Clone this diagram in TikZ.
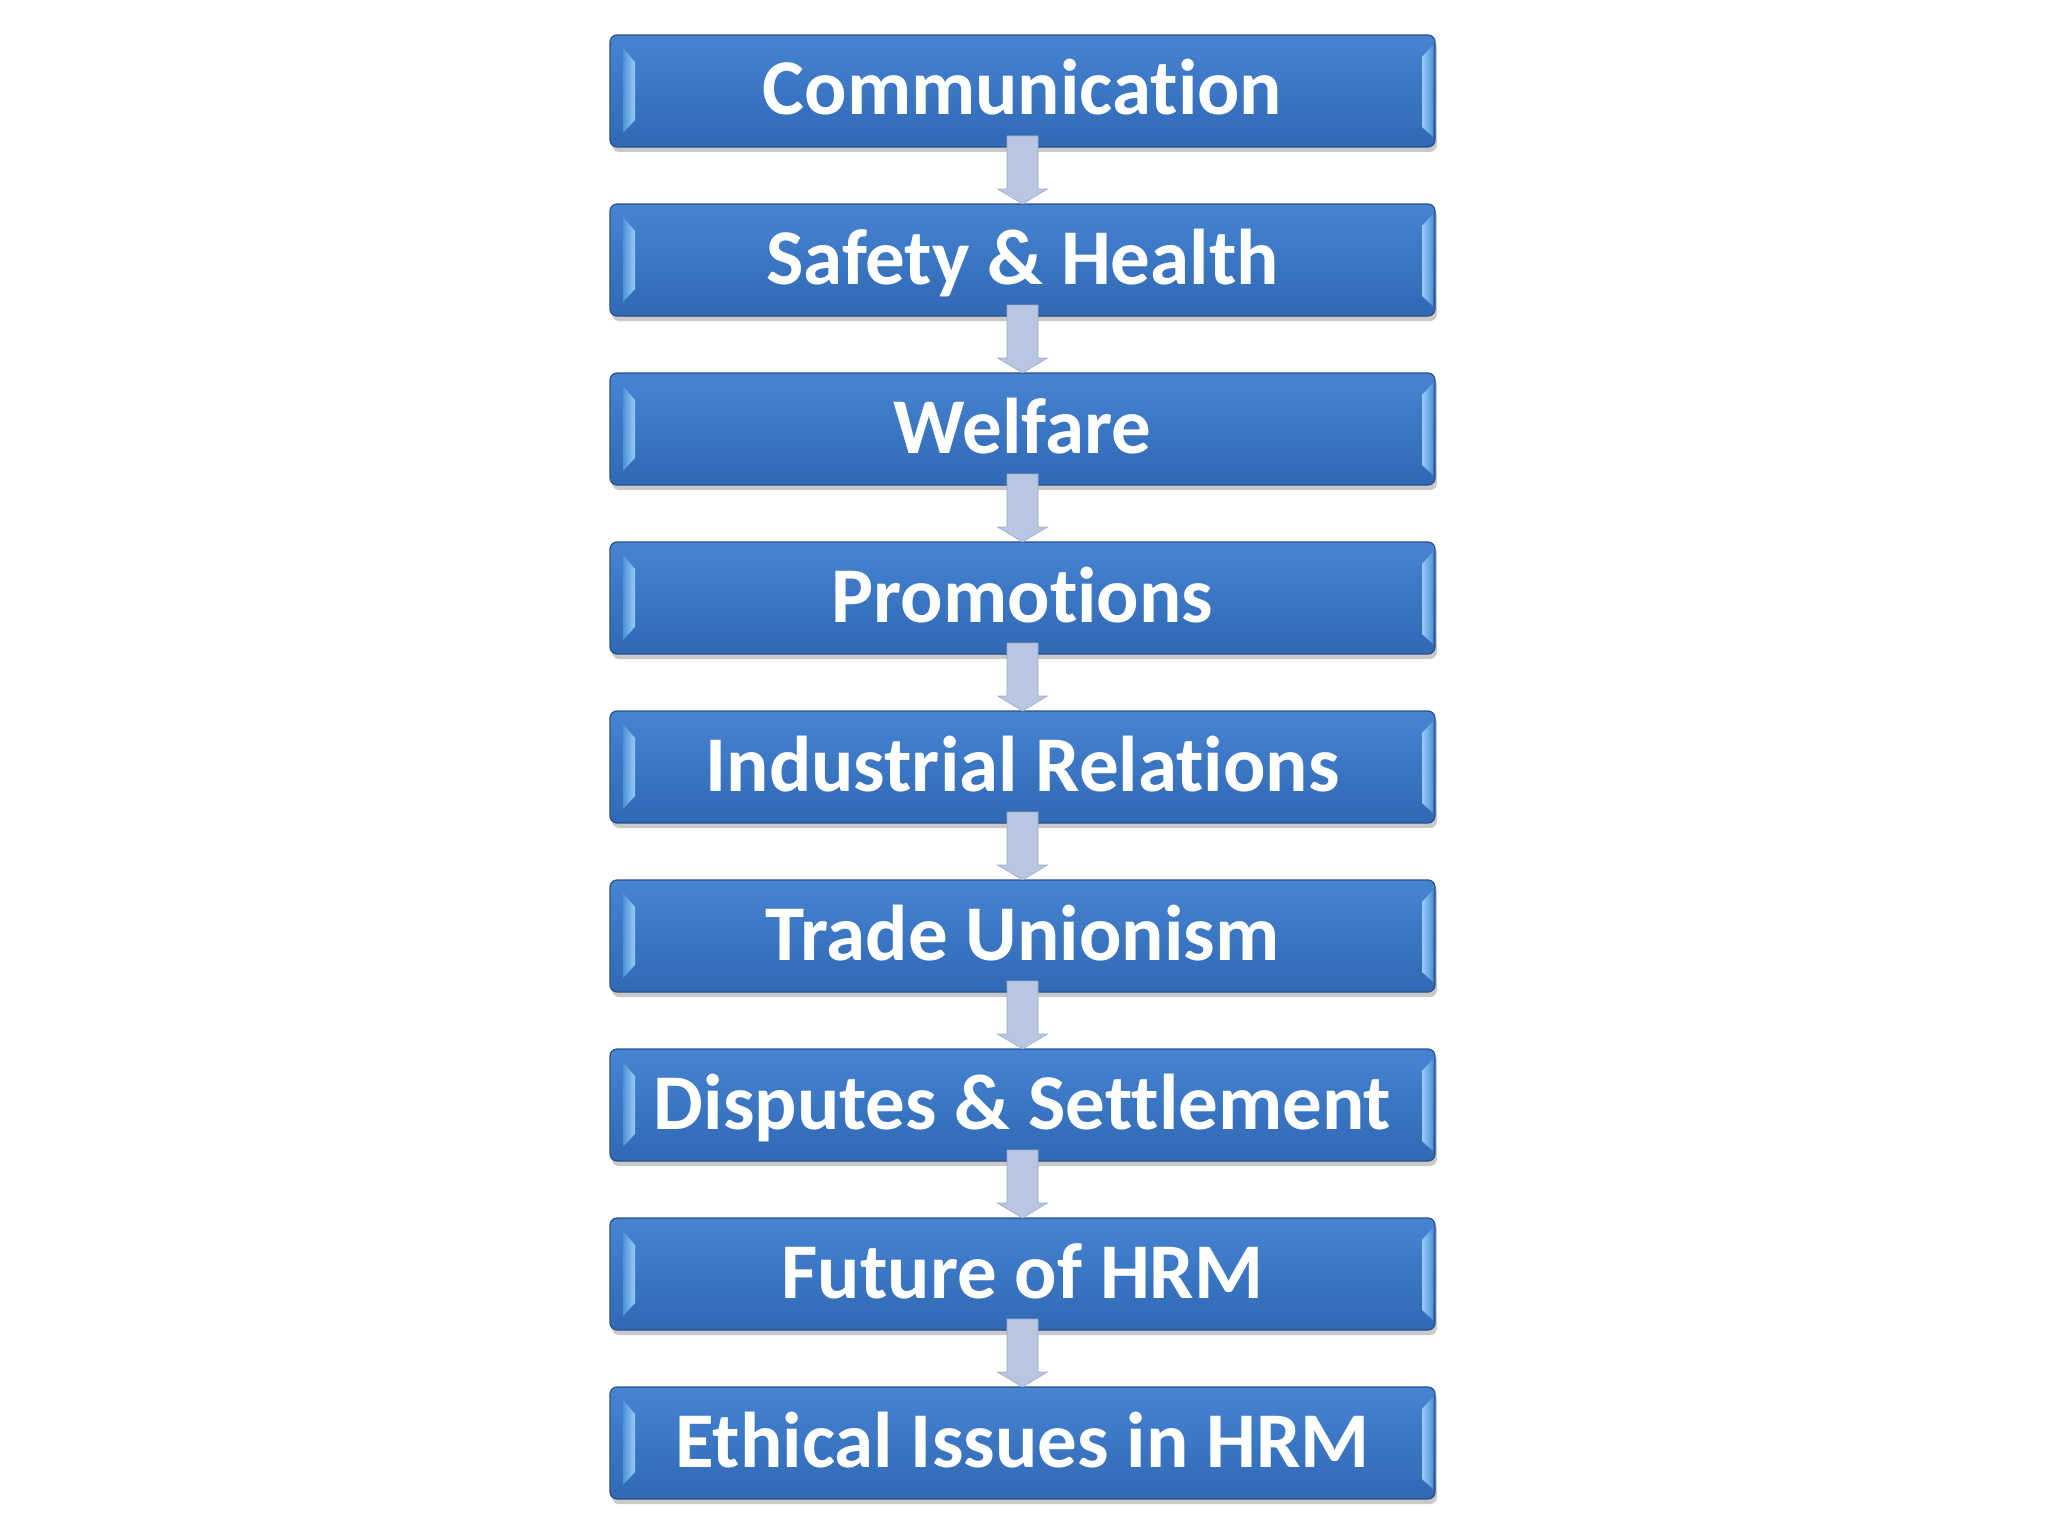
\documentclass[tikz,border=0pt]{standalone}
\usepackage{fontspec}
\setmainfont{Carlito}[Ligatures=CommonOff]
\usetikzlibrary{shadows}
\definecolor{boxtop}{RGB}{70,132,210}
\definecolor{boxbot}{RGB}{48,104,180}
\definecolor{boxline}{RGB}{42,80,140}
\definecolor{bevlight}{RGB}{150,205,245}
\definecolor{bevdark}{RGB}{80,145,215}
\definecolor{arrfill}{RGB}{184,198,226}
\definecolor{arrline}{RGB}{160,172,198}
\tikzset{
  stepbox/.style={draw=boxline, line width=1.2pt, rounded corners=7pt,
    top color=boxtop, bottom color=boxbot, minimum width=825pt, minimum height=112pt,
    inner sep=0pt, outer sep=0pt, text=white, text height=48pt, text depth=0pt,
    font=\fontsize{79}{90}\selectfont\bfseries,
    drop shadow={shadow xshift=2pt, shadow yshift=-5pt, opacity=0.3, fill=black!70}},
  bevel/.style={left color=bevdark, right color=bevlight, draw=none},
  bevelr/.style={left color=bevlight, right color=bevdark, draw=none},
  flowarrow/.style={fill=arrfill, draw=arrline, line width=0.6pt}
}
\begin{document}
\begin{tikzpicture}[x=1pt,y=-1pt]
\useasboundingbox (0,0) rectangle (2048,1536);
\foreach \i/\t in {0/Communication,1/Safety \& Health,2/Welfare,3/Promotions,4/Industrial Relations,5/Trade Unionism,6/Disputes \& Settlement,7/Future of HRM,8/Ethical Issues in HRM}{
  \node[stepbox] (b\i) at (1022.5,{91+169*\i}) {\t};
  \path[bevel] ([xshift=13pt,yshift=-13pt]b\i.north west) -- ([xshift=25pt,yshift=-27pt]b\i.north west)
     -- ([xshift=25pt,yshift=27pt]b\i.south west) -- ([xshift=13pt,yshift=14pt]b\i.south west) -- cycle;
  \path[bevelr] ([xshift=-13pt,yshift=-22pt]b\i.north east) -- ([xshift=-2pt,yshift=-10pt]b\i.north east)
     -- ([xshift=-2pt,yshift=10pt]b\i.south east) -- ([xshift=-13pt,yshift=20pt]b\i.south east) -- cycle;
}
\foreach \i [evaluate=\i as \j using int(\i+1)] in {0,...,7}{
  \path[flowarrow] ([xshift=-15.5pt,yshift=11pt]b\i.south) -- ([xshift=15.5pt,yshift=11pt]b\i.south)
    -- ([xshift=15.5pt,yshift=15pt]b\j.north) -- ([xshift=25pt,yshift=15pt]b\j.north)
    -- (b\j.north) -- ([xshift=-25pt,yshift=15pt]b\j.north)
    -- ([xshift=-15.5pt,yshift=15pt]b\j.north) -- cycle;
}
\end{tikzpicture}
\end{document}
